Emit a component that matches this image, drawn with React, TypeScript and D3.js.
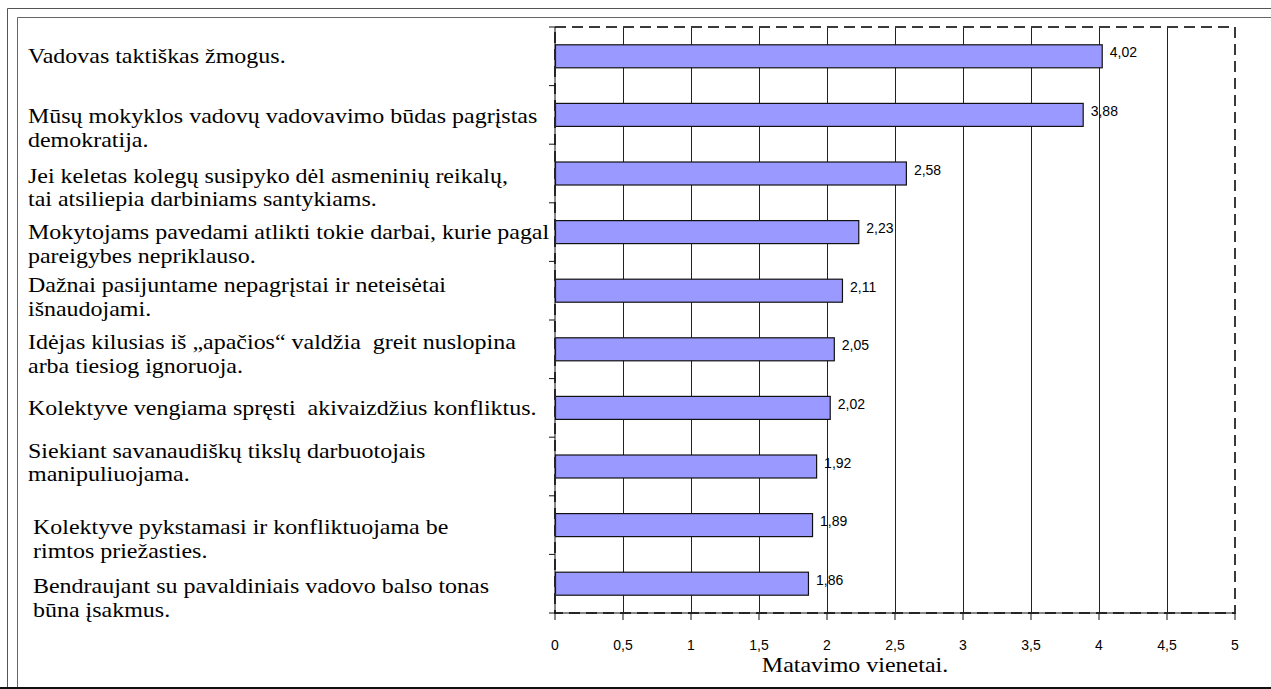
import React from "react";
import * as d3 from "d3";

// Statement labels (one entry per line) and their mean scores
const categories: string[][] = [
  ["Vadovas taktiškas žmogus."],
  ["Mūsų mokyklos vadovų vadovavimo būdas pagrįstas", "demokratija."],
  ["Jei keletas kolegų susipyko dėl asmeninių reikalų,", "tai atsiliepia darbiniams santykiams."],
  ["Mokytojams pavedami atlikti tokie darbai, kurie pagal", "pareigybes nepriklauso."],
  ["Dažnai pasijuntame nepagrįstai ir neteisėtai", "išnaudojami."],
  ["Idėjas kilusias iš „apačios“ valdžia  greit nuslopina", "arba tiesiog ignoruoja."],
  ["Kolektyve vengiama spręsti  akivaizdžius konfliktus."],
  ["Siekiant savanaudiškų tikslų darbuotojais", "manipuliuojama."],
  ["Kolektyve pykstamasi ir konfliktuojama be", "rimtos priežasties."],
  ["Bendraujant su pavaldiniais vadovo balso tonas", "būna įsakmus."],
];
const values: number[] = [4.02, 3.88, 2.58, 2.23, 2.11, 2.05, 2.02, 1.92, 1.89, 1.86];
const xTicks: number[] = [0, 0.5, 1, 1.5, 2, 2.5, 3, 3.5, 4, 4.5, 5];
const axisTitle = "Matavimo vienetai.";

// Layout of the hand-placed statement text boxes (vertical nudge, left inset)
const labelShift: number[] = [0, 1, 2, 0, -6, -7, 0, -16, 2, 2];
const labelInset: number[] = [28, 28, 28, 28, 28, 28, 28, 28, 33, 33];

const W = 1271;
const H = 689;
const plot = { left: 555, right: 1235, top: 27, bottom: 613 };

const SERIF = "Liberation Serif, DejaVu Serif, serif";
const SANS = "Liberation Sans, Arial, sans-serif";
const SERIF_SIZE = 22;
const SERIF_STRETCH = 1.09;

const fmt = (v: number) => String(v).replace(".", ",");

export default function App() {
  const ids = categories.map((_, i) => String(i));
  const x = d3.scaleLinear().domain([0, 5]).range([plot.left, plot.right]);
  const y = d3.scaleBand<string>().domain(ids).range([plot.top, plot.bottom]);
  const step = y.step();
  const barH = 23;

  const bandEdges = d3.range(ids.length + 1).map((i) => plot.top + i * step);

  return (
    <svg
      width={W}
      height={H}
      viewBox={`0 0 ${W} ${H}`}
      style={{ position: "absolute", left: 0, top: 0, background: "#fff" }}
    >
      <rect x={0} y={0} width={W} height={H} fill="#fff" />
      {/* outer double frame */}
      <path d={`M7.5,${H} V8.5 H${W}`} fill="none" stroke="#555" strokeWidth={1} />
      <path d={`M17.5,${H} V17.5 H${W}`} fill="none" stroke="#666" strokeWidth={1} />
      <line x1={0} x2={W} y1={688} y2={688} stroke="#111" strokeWidth={2} />

      {/* vertical gridlines */}
      {xTicks.slice(1, -1).map((t) => (
        <line
          key={`g${t}`}
          x1={x(t) + 0.5}
          x2={x(t) + 0.5}
          y1={plot.top}
          y2={plot.bottom}
          stroke="#222"
          strokeWidth={1}
        />
      ))}

      {/* bars */}
      {values.map((v, i) => {
        const cy = (y(ids[i]) as number) + step / 2;
        return (
          <rect
            key={`b${i}`}
            x={x(0) + 0.5}
            y={cy - barH / 2}
            width={x(v) - x(0)}
            height={barH}
            fill="#9999ff"
            stroke="#111"
            strokeWidth={1.2}
          />
        );
      })}

      {/* value labels */}
      {values.map((v, i) => {
        const cy = (y(ids[i]) as number) + step / 2;
        return (
          <text
            key={`v${i}`}
            x={x(v) + 8}
            y={cy + 1}
            fontFamily={SANS}
            fontSize={14}
            fill="#000"
          >
            {fmt(v)}
          </text>
        );
      })}

      {/* plot border (dashed) */}
      <rect
        x={plot.left}
        y={plot.top}
        width={plot.right - plot.left}
        height={plot.bottom - plot.top}
        fill="none"
        stroke="#3a3a3a"
        strokeWidth={2}
        strokeDasharray="11 6"
      />

      {/* category axis ticks */}
      {bandEdges.map((e, i) => (
        <line key={`yt${i}`} x1={plot.left - 6} x2={plot.left} y1={e} y2={e} stroke="#111" strokeWidth={1} />
      ))}
      <line x1={plot.left} x2={plot.left} y1={plot.top} y2={plot.bottom} stroke="#111" strokeWidth={1} />

      {/* value axis */}
      <line x1={plot.left} x2={plot.right} y1={plot.bottom} y2={plot.bottom} stroke="#111" strokeWidth={1} />
      {xTicks.map((t) => (
        <g key={`xt${t}`}>
          <line x1={x(t)} x2={x(t)} y1={plot.bottom} y2={plot.bottom + 7} stroke="#111" strokeWidth={1} />
          <text
            x={x(t)}
            y={plot.bottom + 37}
            textAnchor="middle"
            fontFamily={SANS}
            fontSize={14}
            fill="#000"
          >
            {fmt(t)}
          </text>
        </g>
      ))}
      <text
        transform={`translate(855,672) scale(${SERIF_STRETCH},1)`}
        textAnchor="middle"
        fontFamily={SERIF}
        fontSize={SERIF_SIZE}
        fill="#000"
      >
        {axisTitle}
      </text>

      {/* category labels */}
      {categories.map((lines, i) => {
        const cy = (y(ids[i]) as number) + step / 2 + labelShift[i];
        return (
          <text
            key={`c${i}`}
            transform={`translate(${labelInset[i]},${cy + 7}) scale(${SERIF_STRETCH},1)`}
            fontFamily={SERIF}
            fontSize={SERIF_SIZE}
            fill="#000"
          >
            {lines.map((ln, j) => (
              <tspan key={j} x={0} y={j * 24} style={{ whiteSpace: "pre" }}>
                {ln}
              </tspan>
            ))}
          </text>
        );
      })}
    </svg>
  );
}
